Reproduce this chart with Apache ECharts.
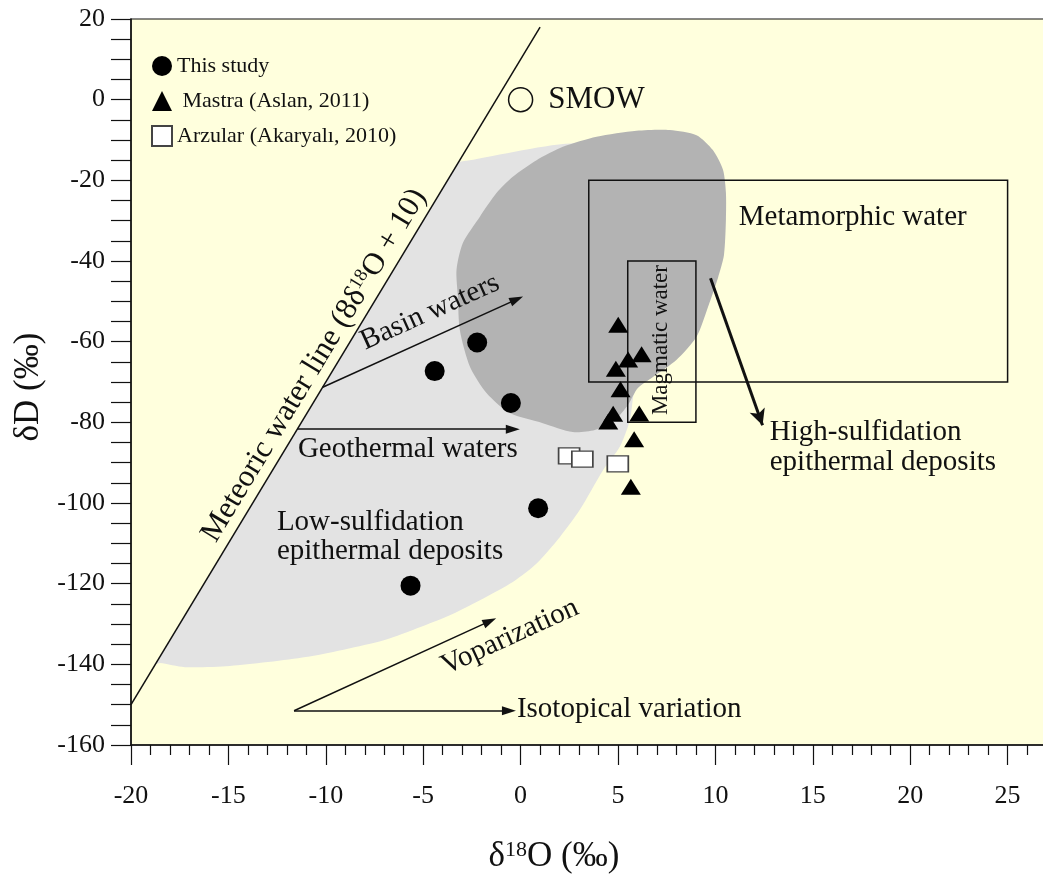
<!DOCTYPE html>
<html>
<head>
<meta charset="utf-8">
<script src="https://cdn.jsdelivr.net/npm/echarts@6/dist/echarts.min.js"></script>
<style>
  html, body { margin: 0; padding: 0; background: #fff; }
  #main { width: 1043px; height: 880px; }
</style>
</head>
<body>
<div id="main"></div>
<script>
// axis ranges / ticks
const xRange = [-20, 30], xStep = 5
const yRange = [-160, 20], yStep = 20

// samples (δ18O, δD)
const thisStudy = [[-4.41, -67.3], [-2.23, -60.2], [-0.5, -75.2], [0.9, -101.3], [-5.65, -120.5]]
const mastra = [[5.01, -55.8], [5.52, -64.4], [6.21, -63.1], [4.89, -66.7], [5.13, -71.8],
  [4.75, -77.9], [4.5, -79.8], [6.09, -77.8], [5.83, -84.2], [5.66, -96.0]]
const arzular = [[2.49, -88.3], [3.17, -89.1], [4.99, -90.3]]
const smow = [[0, 0]]

// meteoric water line dD = 8*d18O + 10, end points
const meteoricLine = [[-20, -150], [1, 18]]

// reference fields
const lowSulfZone = [[-3.2, -15.6], [-2.7, -15.1], [2.87, -10.8], [5.61, -15.0], [8.69, -39.7],
  [5.87, -71.5], [5.78, -73.6], [5.61, -79.4], [5.10, -86.0], [4.24, -91.8], [3.04, -101.7],
  [2.02, -108.4], [0.82, -115.0], [-0.38, -119.5], [-2.09, -124.1], [-3.75, -128.1],
  [-5.5, -131.4], [-7.15, -134.2], [-11.02, -138.2], [-14.92, -140.4], [-17.24, -140.7],
  [-18.52, -139.7], [-18.75, -140], [-18.5, -138], [-15, -110], [-10, -70], [-6, -38],
  [-3.5, -18]]
const highSulfZone = [[-3.22, -48.8], [-3.29, -42.2], [-2.96, -35.5], [-2.09, -29.0], [-1.23, -23.1],
  [-0.40, -19.1], [0.82, -15.0], [2.17, -11.7], [3.90, -9.2], [5.95, -7.7], [7.66, -7.5],
  [9.03, -8.8], [9.87, -12.5], [10.39, -17.4], [10.54, -23.1], [10.54, -29.8], [10.44, -38.5],
  [10.13, -44.2], [9.62, -51.4], [9.03, -58.8], [8.01, -64.5], [6.81, -68.7], [6.02, -71.5],
  [5.51, -75.7], [4.84, -79.4], [3.81, -81.9], [2.68, -82.4], [1.14, -80.2], [-0.55, -77.7],
  [-1.75, -72.7], [-2.60, -66.2], [-3.12, -57.1]]

// boxes: [x1, y1, x2, y2]
const waterBoxes = [[3.5, -20, 25, -70], [5.5, -40, 9, -80]]

// arrows: start, end
const thinArrows = [
  [[-10.16, -71.3], [-0.2, -49.5]],   // basin waters
  [[-11.46, -81.7], [-0.4, -81.7]],   // geothermal waters
  [[-11.63, -151.5], [-1.58, -129.3]], // voparization
  [[-11.63, -151.5], [-0.6, -151.5]]  // isotopical variation
]
const hsArrow = [[9.75, -44.3], [12.42, -80.7]]

const FONT = 'Liberation Serif'
const INK = '#111'

const chart = echarts.init(document.getElementById('main'))

function zoneSeries(name, pts, color, z) {
  return {
    name: name,
    type: 'custom',
    z: z,
    silent: true,
    data: [pts[0]],
    renderItem: function (params, api) {
      return {
        type: 'polygon',
        shape: { points: pts.map(function (p) { return api.coord(p) }), smooth: 0.25 },
        style: { fill: color }
      }
    }
  }
}

chart.setOption({
  animation: false,
  backgroundColor: '#ffffff',
  grid: {
    left: 131, top: 19, width: 974, height: 726,
    outerBoundsMode: 'none',
    containLabel: false,
    show: true,
    backgroundColor: '#FFFFDD',
    borderColor: INK,
    borderWidth: 1.2
  },
  legend: {
    orient: 'vertical',
    left: 146, top: 50,
    itemWidth: 20, itemHeight: 20, itemGap: 13,
    textStyle: { fontFamily: FONT, fontSize: 22, color: INK },
    formatter: function (n) { return n.indexOf('Mastra') === 0 ? ' ' + n : n },
    data: ['This study', 'Mastra (Aslan, 2011)', 'Arzular (Akaryalı, 2010)']
  },
  xAxis: {
    type: 'value',
    min: xRange[0], max: xRange[1], interval: xStep,
    name: '{d|δ}{s|18}{d|O (‰)}',
    nameLocation: 'middle',
    nameGap: 94,
    nameTextStyle: {
      padding: [0, 128, 0, 0],
      rich: {
        d: { fontFamily: FONT, fontSize: 35, color: INK },
        s: { fontFamily: FONT, fontSize: 22, color: INK, verticalAlign: 'top' }
      }
    },
    axisLine: { show: true, onZero: false, lineStyle: { color: INK, width: 1.5 } },
    axisTick: { show: true, length: 20, lineStyle: { color: INK, width: 1.2 } },
    minorTick: { show: true, splitNumber: 5, length: 10, lineStyle: { color: INK, width: 1.2 } },
    axisLabel: {
      fontFamily: FONT, fontSize: 26, color: INK, margin: 38,
      formatter: function (v) { return v > 25 ? '' : String(v) }
    },
    splitLine: { show: false }
  },
  yAxis: {
    type: 'value',
    min: yRange[0], max: yRange[1], interval: yStep,
    name: 'δD (‰)',
    nameLocation: 'middle',
    nameRotate: 90,
    nameGap: 84,
    nameTextStyle: { fontFamily: FONT, fontSize: 35, color: INK, padding: [0, 10, 0, 0] },
    axisLine: { show: true, onZero: false, lineStyle: { color: INK, width: 1.5 } },
    axisTick: { show: true, length: 20, lineStyle: { color: INK, width: 1.2 } },
    minorTick: { show: true, splitNumber: 4, length: 20, lineStyle: { color: INK, width: 1.2 } },
    axisLabel: { fontFamily: FONT, fontSize: 26, color: INK, margin: 26 },
    splitLine: { show: false }
  },
  series: [
    zoneSeries('low-sulfidation field', lowSulfZone, '#E3E3E3', 1),
    zoneSeries('high-sulfidation field', highSulfZone, '#B3B3B3', 2),
    {
      name: 'water boxes',
      type: 'custom',
      z: 3,
      silent: true,
      encode: { x: [0, 2], y: [1, 3] },
      data: waterBoxes,
      renderItem: function (params, api) {
        const a = api.coord([api.value(0), api.value(1)])
        const b = api.coord([api.value(2), api.value(3)])
        return {
          type: 'rect',
          shape: { x: a[0], y: a[1], width: b[0] - a[0], height: b[1] - a[1] },
          style: { fill: 'none', stroke: INK, lineWidth: 1.5 }
        }
      }
    },
    {
      name: 'meteoric water line',
      type: 'line',
      z: 4,
      silent: true,
      symbol: 'none',
      data: meteoricLine,
      lineStyle: { color: INK, width: 1.5 },
      markLine: {
        silent: true,
        symbol: ['none', 'triangle'],
        symbolSize: [9, 14],
        label: { show: false },
        lineStyle: { color: INK, width: 1.5, type: 'solid' },
        data: thinArrows.map(function (a) { return [{ coord: a[0] }, { coord: a[1] }] }).concat([[
          { coord: hsArrow[0], lineStyle: { width: 3 } },
          { coord: hsArrow[1], symbol: 'arrow', symbolSize: [12, 16] }
        ]])
      }
    },
    {
      name: 'SMOW',
      type: 'scatter',
      z: 9,
      symbol: 'circle',
      symbolSize: 24,
      itemStyle: { color: 'rgba(0,0,0,0)', borderColor: INK, borderWidth: 1.5, opacity: 1 },
      data: smow
    },
    {
      name: 'This study',
      type: 'scatter',
      z: 10,
      symbol: 'circle',
      symbolSize: 20,
      itemStyle: { color: '#000', opacity: 1 },
      data: thisStudy
    },
    {
      name: 'Mastra (Aslan, 2011)',
      type: 'scatter',
      z: 10,
      symbol: 'triangle',
      symbolSize: [20, 16],
      itemStyle: { color: '#000', opacity: 1 },
      data: mastra
    },
    {
      name: 'Arzular (Akaryalı, 2010)',
      type: 'scatter',
      z: 10,
      symbol: 'rect',
      symbolSize: [21, 16],
      itemStyle: { color: '#fff', borderColor: '#444', borderWidth: 1.5, opacity: 1 },
      data: arzular
    }
  ]
})

// annotations placed in data coordinates
const px = function (p) { return chart.convertToPixel({ gridIndex: 0 }, p) }
const deg = Math.PI / 180
function note(at, text, opt) {
  opt = opt || {}
  const p = px(at)
  return {
    type: 'text',
    x: p[0], y: p[1],
    rotation: (opt.rot || 0) * deg,
    z: 100,
    silent: true,
    style: {
      text: text,
      fill: INK,
      fontFamily: FONT,
      fontSize: opt.size || 29,
      lineHeight: opt.lh,
      align: opt.align || 'center',
      verticalAlign: 'middle',
      rich: opt.rich
    }
  }
}
const supRich = {
  t: { fontFamily: FONT, fontSize: 31, fill: INK },
  s: { fontFamily: FONT, fontSize: 19, fill: INK, verticalAlign: 'top' }
}
chart.setOption({
  graphic: [
    note([1.42, 0], 'SMOW', { align: 'left', size: 31 }),
    note([11.2, -29.1], 'Metamorphic water', { align: 'left' }),
    note([7.2, -59.6], 'Magmatic water', { rot: 90, size: 23 }),
    note([12.79, -86.1], 'High-sulfidation\nepithermal deposits', { align: 'left', lh: 30 }),
    note([-4.65, -52.7], 'Basin waters', { rot: 24.3 }),
    note([-5.79, -86.6], 'Geothermal waters'),
    note([-12.51, -108.3], 'Low-sulfidation\nepithermal deposits', { align: 'left', lh: 29 }),
    note([-10.6, -65.9], '{t|Meteoric water line (8δ}{s|18}{t|O + 10)}', { rot: 58.8, rich: supRich }),
    note([-0.55, -133.2], 'Voparization', { rot: 24.6 }),
    note([-0.19, -151.1], 'Isotopical variation', { align: 'left' })
  ]
})
</script>
</body>
</html>
